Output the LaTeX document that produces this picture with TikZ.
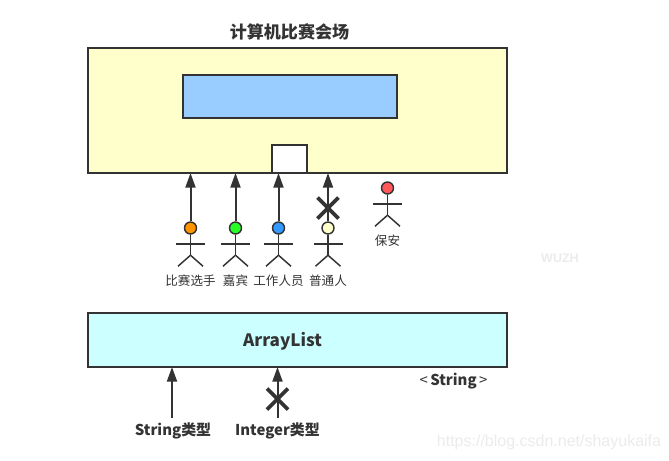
\documentclass[tikz,border=0pt]{standalone}
\usepackage{xcolor}
\usepackage{fontspec}
\setmainfont{Noto Sans CJK SC}
\newfontfamily\markfont{Liberation Sans}
\usetikzlibrary{arrows.meta}
\definecolor{lineGray}{HTML}{333333}
\definecolor{hallYellow}{HTML}{FFFFCC}
\definecolor{screenBlue}{HTML}{99CCFF}
\definecolor{listCyan}{HTML}{CCFFFF}
\tikzset{
    boxShape/.style={draw=lineGray, line width=1.5pt, rectangle, inner sep=0pt, outer sep=0pt, anchor=north west},
    flowLine/.style={draw=lineGray, line width=1.5pt, -{Triangle[length=11pt, width=7.5pt]}},
    bigText/.style={text=lineGray, font=\bfseries\fontsize{12.8}{14}\selectfont, inner sep=0pt},
    midText/.style={text=lineGray, font=\bfseries\fontsize{11.2}{13}\selectfont, inner sep=0pt},
    smallText/.style={text=lineGray, font=\fontsize{9.4}{11}\selectfont, inner sep=0pt},
    headDot/.style={draw=lineGray, circle, line width=1.1pt, minimum size=9pt, inner sep=0pt},
    limbLine/.style={draw=lineGray, line width=1.1pt},
    crossLine/.style={draw=lineGray, line width=2.8pt},
    markText/.style={text=black!8, inner sep=0pt}
}
% stick figure: name, x, y of head, colour
\newcommand{\stickman}[4]{
    \node[headDot, fill=#4] (#1) at (#2,#3) {};
    \draw[limbLine] (#1.south) -- ++(0,20.5) coordinate (#1hip);
    \draw[limbLine] (#2-14.5,#3+16) -- (#2+14.5,#3+16);
    \draw[limbLine] (#1hip) -- ++(-12.5,11);
    \draw[limbLine] (#1hip) -- ++(12.5,11);
}
% X mark on a connector
\newcommand{\crossmark}[2]{
    \draw[crossLine] (#1-10.5,#2-10.5) -- (#1+10.5,#2+10.5);
    \draw[crossLine] (#1-10.5,#2+10.5) -- (#1+10.5,#2-10.5);
}
\begin{document}
\begin{tikzpicture}[x=0.75pt, y=-0.75pt]
    \useasboundingbox (0,0) rectangle (669,461);
    \node[bigText] (hallTitle) at (289.5,31.5) {计算机比赛会场};
    \node[boxShape, fill=hallYellow, minimum width=314.25pt, minimum height=93.75pt] (hall) at (88,48) {};
    \node[boxShape, fill=screenBlue, minimum width=160.5pt, minimum height=32.25pt] (screen) at (183,75) {};
    \node[boxShape, fill=white, minimum width=26.25pt, minimum height=21pt] (door) at (272,145) {};
    % people
    \stickman{player}{190.5}{228}{orange!85!yellow}
    \stickman{guest}{235.5}{228}{green!85!white}
    \stickman{staff}{278.5}{228}{blue!50!cyan!80!white}
    \stickman{visitor}{328}{228}{hallYellow}
    \stickman{guard}{387.5}{188}{red!65!white}
    \draw[flowLine] (player.north) -- (player.north |- hall.south);
    \draw[flowLine] (guest.north) -- (guest.north |- hall.south);
    \draw[flowLine] (staff.north) -- (staff.north |- hall.south);
    \draw[flowLine] (visitor.north) -- (visitor.north |- hall.south);
    \crossmark{328}{208}
    \node[smallText] (playerName) at (190.5,280.5) {比赛选手};
    \node[smallText] (guestName) at (235.5,280.5) {嘉宾};
    \node[smallText] (staffName) at (278.5,280.5) {工作人员};
    \node[smallText] (visitorName) at (328,280.5) {普通人};
    \node[smallText] (guardName) at (387.5,240.5) {保安};
    % list
    \node[boxShape, fill=listCyan, minimum width=314.25pt, minimum height=40.5pt] (list) at (88,313) {};
    \node[bigText] (listName) at (282.5,341) {ArrayList};
    \node[midText] (typeParam) at (453.5,381) {{\mdseries<}\,String\,{\mdseries>}};
    \node[midText] (strType) at (173,430.5) {String类型};
    \node[midText] (intType) at (277.5,430.5) {Integer类型};
    \draw[flowLine] (172,418) coordinate (strStart) -- (strStart |- list.south);
    \draw[flowLine] (277.5,418) coordinate (intStart) -- (intStart |- list.south);
    \crossmark{277.5}{399}
    % watermarks
    \node[markText, font=\markfont\bfseries\fontsize{9.4}{11}\selectfont] (wuzh) at (560,258.5) {WUZH};
    \node[markText, font=\markfont\fontsize{12}{14}\selectfont] (url) at (549,442.5) {https://blog.csdn.net/shayukaifa};
\end{tikzpicture}
\end{document}
